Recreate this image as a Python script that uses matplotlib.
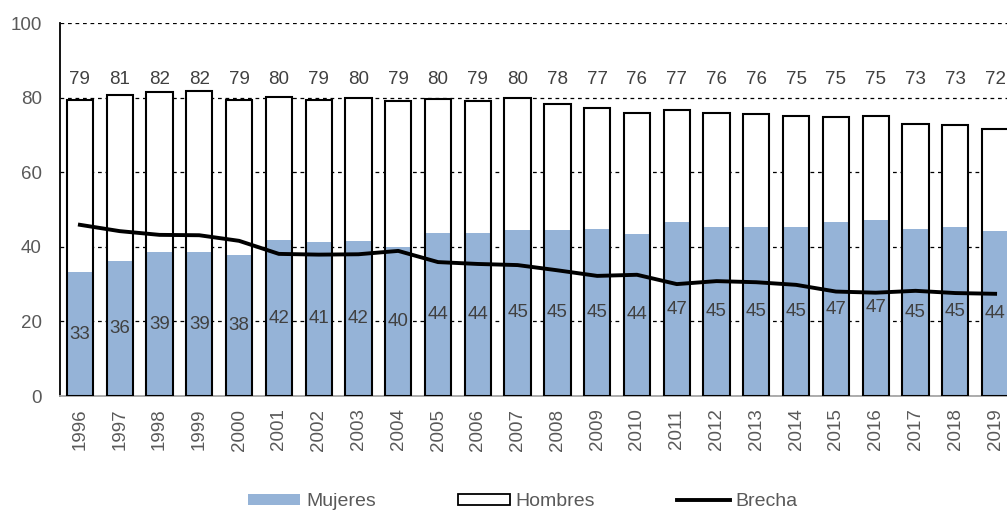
import numpy as np
import matplotlib.pyplot as plt
from matplotlib.patches import Patch
from matplotlib.lines import Line2D

plt.rcParams['font.family'] = ['Liberation Sans', 'DejaVu Sans']

# Data
years = [str(y) for y in range(1996, 2020)]
hombres = [79.3, 80.6, 81.6, 81.7, 79.4, 80.1, 79.4, 79.8, 79.0, 79.7, 79.2, 79.8,
           78.3, 77.1, 76.0, 76.6, 76.0, 75.6, 75.1, 74.8, 75.2, 73.0, 72.7, 71.7]
mujeres = [33.2, 36.2, 38.6, 38.6, 37.8, 41.7, 41.3, 41.6, 40.0, 43.6, 43.6, 44.6,
           44.6, 44.8, 43.5, 46.6, 45.2, 45.2, 45.2, 46.6, 47.3, 44.9, 45.2, 44.2]
brecha = [45.9, 44.2, 43.2, 43.1, 41.6, 38.1, 37.9, 38.0, 38.9, 35.9, 35.4, 35.1,
          33.7, 32.2, 32.5, 30.0, 30.8, 30.5, 29.8, 28.0, 27.7, 28.2, 27.6, 27.4]

blue = "#95B3D7"
txt = "#595959"
x = np.arange(len(years))
w = 0.66

fig = plt.figure(figsize=(10.07, 5.11), dpi=100)
ax = fig.add_axes([60 / 1007, 115 / 511, 955 / 1007, 373 / 511])

# bars: men behind, women in front, men outline on top
ax.bar(x, hombres, w, color="white", edgecolor="none", zorder=2)
bm = ax.bar(x, mujeres, w, color=blue, edgecolor="none", zorder=3)
ax.bar(x, hombres, w, facecolor="none", edgecolor="black", linewidth=1.5, zorder=4)
ax.plot(x, brecha, color="black", linewidth=2.8, zorder=5)

# labels
for i in range(len(x)):
    ax.text(x[i], 84.8, f"{hombres[i]:.0f}", ha="center", va="center",
            fontsize=13.5, color="#404040", zorder=6)
ax.bar_label(bm, labels=[f"{v:.0f}" for v in mujeres], label_type="center",
             fontsize=13.5, color="#404040", zorder=6)

ax.set_xlim(-0.5, len(x) - 0.5)
ax.set_ylim(0, 100)
ax.set_yticks(range(0, 101, 20))
ax.set_xticks(x)
ax.set_xticklabels(years, rotation=90)
ax.tick_params(axis="y", length=0, pad=13, labelsize=13.5, labelcolor=txt)
ax.tick_params(axis="x", length=0, pad=9, labelsize=13.5, labelcolor=txt)
ax.yaxis.grid(True, linestyle=(0, (3, 3)), color="black", linewidth=0.9, zorder=1)
ax.set_axisbelow(True)

for s in ["top", "right"]:
    ax.spines[s].set_visible(False)
ax.spines["left"].set_color("black")
ax.spines["left"].set_linewidth(1.3)
ax.spines["bottom"].set_color("#A6A6A6")
ax.spines["bottom"].set_linewidth(1.3)

# legend
handles = [Patch(facecolor=blue, edgecolor="none", label="Mujeres"),
           Patch(facecolor="white", edgecolor="black", linewidth=1.3, label="Hombres"),
           Line2D([0], [0], color="black", linewidth=2.8, label="Brecha")]
leg = fig.legend(handles=handles, loc="center", bbox_to_anchor=(0.519, 0.018),
                 ncol=3, frameon=False, fontsize=14, handlelength=2.7,
                 handletextpad=0.3, columnspacing=4.2, handleheight=0.5)
for t in leg.get_texts():
    t.set_color(txt)

fig.savefig("out.png", dpi=100)
